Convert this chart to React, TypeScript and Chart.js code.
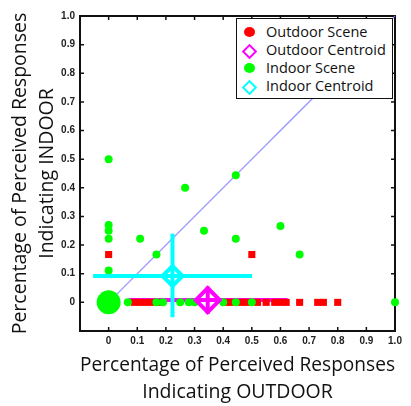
import React, { useEffect, useRef } from 'react';
import { Chart, registerables } from 'chart.js';

Chart.register(...registerables);

// ---- Data ----
const AXIS_TICKS = [0, 0.1, 0.2, 0.3, 0.4, 0.5, 0.6, 0.7, 0.8, 0.9, 1.0];

const outdoorSceneX = [0, 0.5, 0.09, 0.11, 0.13, 0.15, 0.17, 0.41, 0.43, 0.46, 0.48, 0.52, 0.55, 0.58, 0.6, 0.62, 0.667, 0.73, 0.75, 0.8];
const outdoorSceneY = [0.167, 0.167, 0, 0, 0, 0, 0, 0, 0, 0, 0, 0, 0, 0, 0, 0, 0, 0, 0, 0];

const indoorSceneX = [0, 0, 0, 0, 0, 0.11, 0.167, 0.267, 0.333, 0.444, 0.444, 0.6, 0.667, 1.0, 0.067, 0.167, 0.19, 0.25, 0.28, 0.3, 0.4, 0.444, 0.5];
const indoorSceneY = [0.5, 0.27, 0.25, 0.222, 0.111, 0.222, 0.167, 0.4, 0.25, 0.444, 0.222, 0.267, 0.167, 0, 0, 0, 0, 0, 0, 0, 0, 0, 0];

const indoorOriginX = [0];
const indoorOriginY = [0];

const outdoorCentroidX = [0.346];
const outdoorCentroidY = [0.008];
const outdoorErrX = [0.07, 0.625];
const outdoorErrY = [-0.04, 0.055];

const indoorCentroidX = [0.223];
const indoorCentroidY = [0.092];
const indoorErrX = [-0.054, 0.501];
const indoorErrY = [-0.052, 0.24];

const diagX = [0, 1];
const diagY = [0, 1];

const X_TITLE = ['Percentage of Perceived Responses', 'Indicating OUTDOOR'];
const Y_TITLE = ['Percentage of Perceived Responses', 'Indicating INDOOR'];

const LEGEND = [
  { label: 'Outdoor Scene', color: '#ff0000', hollow: false },
  { label: 'Outdoor Centroid', color: '#ff00ff', hollow: true },
  { label: 'Indoor Scene', color: '#00ff00', hollow: false },
  { label: 'Indoor Centroid', color: '#00ffff', hollow: true },
];

const zip = (xs: number[], ys: number[]) => xs.map((x, i) => ({ x, y: ys[i] }));
const fmt = (v: number) => (v === 0 ? '0' : Number(v).toFixed(1));

const RED = '#ff0000';
const GREEN = '#00ff00';
const MAGENTA = '#ff00ff';
const CYAN = '#00ffff';

const framePlugin = {
  id: 'frame',
  beforeDatasetsDraw(chart: any) {
    const { ctx, chartArea, scales } = chart;
    const { left, right, top, bottom } = chartArea;
    ctx.save();
    ctx.strokeStyle = '#111';
    ctx.lineWidth = 2;
    ctx.strokeRect(left, top, right - left, bottom - top);
    ctx.lineWidth = 1.5;
    const len = 4;
    ctx.beginPath();
    AXIS_TICKS.forEach((v) => {
      const px = scales.x.getPixelForValue(v);
      ctx.moveTo(px, bottom);
      ctx.lineTo(px, bottom - len);
      ctx.moveTo(px, top);
      ctx.lineTo(px, top + len);
      const py = scales.y.getPixelForValue(v);
      ctx.moveTo(left, py);
      ctx.lineTo(left + len, py);
      ctx.moveTo(right, py);
      ctx.lineTo(right - len, py);
    });
    ctx.stroke();
    ctx.restore();
  },
};

const tickFont = { family: '"Liberation Sans", Arial, sans-serif', size: 10, weight: 'bold' as const };
const titleFont = { family: '"Open Sans", sans-serif', size: 19.5, lineHeight: '27px' };

export default function App() {
  const canvasRef = useRef<HTMLCanvasElement | null>(null);

  useEffect(() => {
    const canvas = canvasRef.current;
    if (!canvas) return;
    const lineDs = (xs: number[], ys: number[], color: string, width: number, order: number) => ({
      type: 'scatter' as const,
      data: zip(xs, ys),
      showLine: true,
      borderColor: color,
      backgroundColor: color,
      borderWidth: width,
      pointRadius: 0,
      order,
    });
    const chart = new Chart(canvas, {
      type: 'scatter',
      data: {
        datasets: [
          {
            label: 'Indoor Centroid',
            data: zip(indoorCentroidX, indoorCentroidY),
            pointStyle: 'rectRot',
            pointRadius: 10,
            borderWidth: 4,
            borderColor: CYAN,
            backgroundColor: 'rgba(255,255,255,0)',
            order: 1,
          },
          lineDs(indoorErrX, [indoorCentroidY[0], indoorCentroidY[0]], CYAN, 4, 2),
          lineDs([indoorCentroidX[0], indoorCentroidX[0]], indoorErrY, CYAN, 4, 2),
          {
            label: 'Outdoor Centroid',
            data: zip(outdoorCentroidX, outdoorCentroidY),
            pointStyle: 'rectRot',
            pointRadius: 12,
            borderWidth: 4,
            borderColor: MAGENTA,
            backgroundColor: 'rgba(255,255,255,0)',
            order: 3,
          },
          lineDs([outdoorCentroidX[0], outdoorCentroidX[0]], outdoorErrY, MAGENTA, 4, 3),
          {
            label: 'Indoor Scene',
            data: zip(indoorSceneX, indoorSceneY),
            pointStyle: 'circle',
            pointRadius: 4,
            borderWidth: 0,
            backgroundColor: GREEN,
            borderColor: GREEN,
            order: 4,
          },
          {
            label: 'Indoor Scene (origin)',
            data: zip(indoorOriginX, indoorOriginY),
            pointStyle: 'circle',
            pointRadius: 12,
            borderWidth: 0,
            backgroundColor: GREEN,
            borderColor: GREEN,
            order: 4,
          },
          {
            label: 'Outdoor Scene',
            data: zip(outdoorSceneX, outdoorSceneY),
            pointStyle: 'rect',
            pointRadius: 5,
            borderWidth: 0,
            backgroundColor: RED,
            borderColor: RED,
            order: 5,
          },
          lineDs(outdoorErrX, [outdoorCentroidY[0], outdoorCentroidY[0]], MAGENTA, 4, 6),
          lineDs(diagX, diagY, 'rgba(120,120,255,0.8)', 1.3, 7),
        ] as any,
      },
      options: {
        animation: false,
        responsive: false,
        clip: false as any,
        layout: { padding: { top: 11, right: 8, left: 0, bottom: 0 } },
        plugins: { legend: { display: false }, tooltip: { enabled: false } },
        scales: {
          x: {
            type: 'linear',
            min: -0.1,
            max: 1,
            afterBuildTicks: (s: any) => {
              s.ticks = AXIS_TICKS.map((v) => ({ value: v }));
            },
            afterFit: (s: any) => {
              s.height = 75;
            },
            ticks: { callback: (v: any) => fmt(v), font: tickFont, color: '#222', padding: 4, maxRotation: 0, autoSkip: false },
            grid: { display: false, drawTicks: false },
            border: { display: false },
            title: { display: true, text: X_TITLE, font: titleFont, color: '#111', padding: { top: 0, bottom: 0 } },
          },
          y: {
            type: 'linear',
            min: -0.1,
            max: 1,
            afterBuildTicks: (s: any) => {
              s.ticks = AXIS_TICKS.map((v) => ({ value: v }));
            },
            afterFit: (s: any) => {
              s.width = 80;
            },
            ticks: { callback: (v: any) => fmt(v), font: tickFont, color: '#222', padding: 5, autoSkip: false },
            grid: { display: false, drawTicks: false },
            border: { display: false },
            title: { display: true, text: Y_TITLE, font: titleFont, color: '#111', padding: { top: 7, bottom: 0 } },
          },
        },
      },
      plugins: [framePlugin],
    });
    return () => chart.destroy();
  }, []);

  return (
    <div style={{ position: 'absolute', left: 0, top: 0, width: 411, height: 406, background: '#fff' }}>
      <canvas ref={canvasRef} width={411} height={406} style={{ width: 411, height: 406, display: 'block' }} />
      <div
        style={{
          position: 'absolute',
          left: 236,
          top: 18,
          width: 157,
          height: 81,
          boxSizing: 'border-box',
          border: '1.5px solid #111',
          background: '#fff',
          fontFamily: '"Open Sans", sans-serif',
          fontSize: 14.5,
          color: '#111',
        }}
      >
        {LEGEND.map((item, i) => (
          <div key={item.label} style={{ position: 'absolute', left: 0, top: 4 + i * 18, height: 18, width: '100%' }}>
            {item.hollow ? (
              <div
                style={{
                  position: 'absolute',
                  left: 7,
                  top: 5,
                  width: 7,
                  height: 7,
                  border: `2.5px solid ${item.color}`,
                  transform: 'rotate(45deg)',
                  boxSizing: 'content-box',
                }}
              />
            ) : (
              <div
                style={{
                  position: 'absolute',
                  left: 7,
                  top: 4,
                  width: 11,
                  height: 10,
                  borderRadius: '50%',
                  background: item.color,
                }}
              />
            )}
            <span style={{ position: 'absolute', left: 29, top: 0, lineHeight: '18px', whiteSpace: 'nowrap' }}>{item.label}</span>
          </div>
        ))}
      </div>
    </div>
  );
}
